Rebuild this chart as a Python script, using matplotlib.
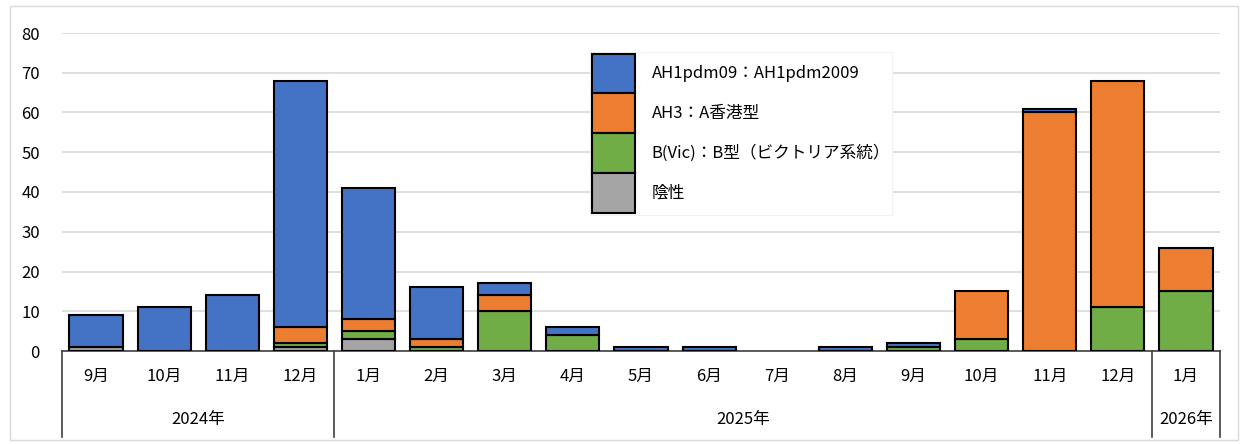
import numpy as np
import matplotlib
matplotlib.use('Agg')
import matplotlib.pyplot as plt
from matplotlib.patches import Patch, Rectangle

plt.rcParams['font.family'] = ['Noto Sans CJK JP', 'DejaVu Sans']

months = ['9月', '10月', '11月', '12月', '1月', '2月', '3月', '4月', '5月', '6月',
          '7月', '8月', '9月', '10月', '11月', '12月', '1月']
years = ['2024年', '2025年', '2026年']
year_counts = [4, 12, 1]

neg = [1, 0, 0, 1, 3, 0, 0, 0, 0, 0, 0, 0, 0, 0, 0, 0, 0]
bvic = [0, 0, 0, 1, 2, 1, 10, 4, 0, 0, 0, 0, 1, 3, 0, 11, 15]
ah3 = [0, 0, 0, 4, 3, 2, 4, 0, 0, 0, 0, 0, 0, 12, 60, 57, 11]
ah1 = [8, 11, 14, 62, 33, 13, 3, 2, 1, 1, 0, 1, 1, 0, 1, 0, 0]

labels = ['AH1pdm09：AH1pdm2009', 'AH3：A香港型', 'B(Vic)：B型（ビクトリア系統）', '陰性']
colors = ['#4472C4', '#ED7D31', '#70AD47', '#A5A5A5']

W, H = 1242, 444
fig = plt.figure(figsize=(W / 100, H / 100), dpi=100)
ax = fig.add_axes([62 / W, (H - 351) / H, (1220 - 62) / W, (351 - 33) / H])

x = np.arange(len(months))
bottom = np.zeros(len(months))
series = [neg, bvic, ah3, ah1]
scol = colors[::-1]
for vals, c in zip(series, scol):
    v = np.array(vals, dtype=float)
    m = v > 0
    ax.bar(x[m], v[m], 0.78, bottom=bottom[m], color=c, edgecolor='black', linewidth=1.5, zorder=3)
    bottom += v

ax.set_xlim(-0.5, len(months) - 0.5)
ax.set_ylim(0, 80)
ax.set_yticks(range(0, 81, 10))
ax.yaxis.grid(True, color='#D9D9D9', linewidth=1.2, zorder=0)
ax.tick_params(axis='y', length=0, labelsize=12, pad=16)
ax.tick_params(axis='x', length=0, labelsize=12, pad=12)
ax.set_xticks(x)
ax.set_xticklabels(months)
for s in ['top', 'right', 'left']:
    ax.spines[s].set_visible(False)
ax.spines['bottom'].set_color('#404040')
ax.spines['bottom'].set_linewidth(1.2)

# two-level category axis
trans = ax.get_xaxis_transform()
edges = [-0.5]
for n in year_counts:
    edges.append(edges[-1] + n)
for e in edges:
    ax.plot([e, e], [0, -0.27], transform=trans, color='#404040', lw=1.2, clip_on=False)
for i, yr in enumerate(years):
    ax.text((edges[i] + edges[i + 1]) / 2, -0.215, yr, transform=trans,
            ha='center', va='center', fontsize=12)

handles = [Patch(facecolor=c, edgecolor='black', linewidth=1.5) for c in colors]
leg = ax.legend(handles, labels, loc='upper left', bbox_to_anchor=(590 / W, 1 - 52 / H),
                bbox_transform=fig.transFigure, fontsize=12, handlelength=2.6,
                handleheight=3.3, labelspacing=0, handletextpad=1.0, borderpad=0.1,
                borderaxespad=0, frameon=True, fancybox=False, framealpha=1)
leg.get_frame().set_edgecolor('#F2F2F2')
leg.get_frame().set_linewidth(0.8)
leg.set_zorder(5)

fig.patches.append(Rectangle((10 / W, 4 / H), 1228 / W, 434 / H, transform=fig.transFigure,
                             fill=False, edgecolor='#D9D9D9', linewidth=1))

fig.savefig('out.png', dpi=100)
